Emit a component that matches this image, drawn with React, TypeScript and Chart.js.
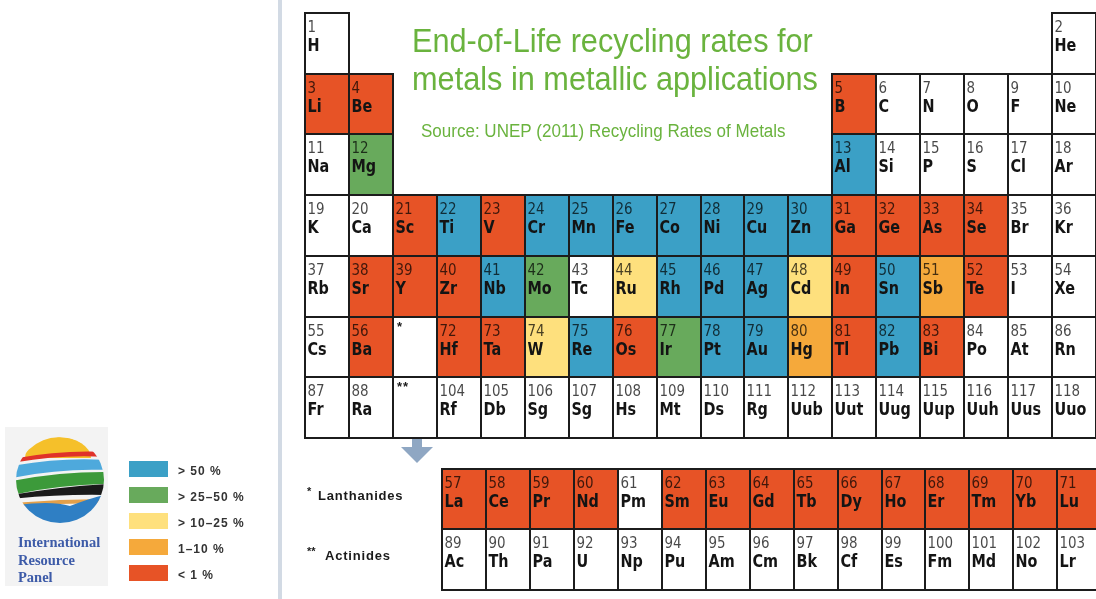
import React, { useEffect, useRef } from "react";
import { Chart, registerables } from "chart.js";
Chart.register(...registerables);

// ---------- DATA ----------
const SYMBOLS = ["H","He","Li","Be","B","C","N","O","F","Ne","Na","Mg","Al","Si","P","S","Cl","Ar","K","Ca","Sc","Ti","V","Cr","Mn","Fe","Co","Ni","Cu","Zn","Ga","Ge","As","Se","Br","Kr","Rb","Sr","Y","Zr","Nb","Mo","Tc","Ru","Rh","Pd","Ag","Cd","In","Sn","Sb","Te","I","Xe","Cs","Ba","La","Ce","Pr","Nd","Pm","Sm","Eu","Gd","Tb","Dy","Ho","Er","Tm","Yb","Lu","Hf","Ta","W","Re","Os","Ir","Pt","Au","Hg","Tl","Pb","Bi","Po","At","Rn","Fr","Ra","Ac","Th","Pa","U","Np","Pu","Am","Cm","Bk","Cf","Es","Fm","Md","No","Lr","Rf","Db","Sg","Sg","Hs","Mt","Ds","Rg","Uub","Uut","Uug","Uup","Uuh","Uus","Uuo"];

const OVER_50 = ["Al","Ti","Cr","Mn","Fe","Co","Ni","Cu","Zn","Nb","Rh","Pd","Ag","Sn","Re","Pt","Au","Pb"];
const FROM_25_TO_50 = ["Mg","Mo","Ir"];
const FROM_10_TO_25 = ["Ru","Cd","W"];
const FROM_1_TO_10 = ["Sb","Hg"];
const UNDER_1 = ["Li","Be","B","Sc","V","Ga","Ge","As","Se","Sr","Y","Zr","In","Te","Ba","Hf","Ta","Os","Tl","Bi","La","Ce","Pr","Nd","Sm","Eu","Gd","Tb","Dy","Ho","Er","Tm","Yb","Lu"];

const LEGEND_LABELS = ["> 50 %", "> 25\u201350 %", "> 10\u201325 %", "1\u201310 %", "< 1 %"];
const CATEGORY_GROUPS = [OVER_50, FROM_25_TO_50, FROM_10_TO_25, FROM_1_TO_10, UNDER_1];
const CATEGORY_COLORS = ["#3ba0c6", "#68aa5c", "#fee07d", "#f5a93b", "#e75326"];
const NONE_COLOR = "#ffffff";

const TITLE_LINES = ["End-of-Life recycling rates for", "metals in metallic applications"];
const SUBTITLE = "Source: UNEP (2011) Recycling Rates of Metals";
const SERIES_LABELS = ["* Lanthanides", "** Actinides"];
const LOGO_LINES = ["International", "Resource", "Panel"];

// layout constants
const F_BLOCK_OFFSET = 3.12;

// periodic table position (col, row) from atomic number
function cellPos(z: number) {
  if (z === 1) return { col: 0, row: 0 };
  if (z === 2) return { col: 17, row: 0 };
  if (z <= 18) {
    const row = z <= 10 ? 1 : 2;
    const i = z - (row === 1 ? 3 : 11);
    return { col: i < 2 ? i : i + 10, row };
  }
  if (z <= 54) {
    const row = z <= 36 ? 3 : 4;
    return { col: z - (row === 3 ? 19 : 37), row };
  }
  const row = z <= 86 ? 5 : 6;
  const i = z - (row === 5 ? 55 : 87);
  if (i < 2) return { col: i, row };
  if (i <= 16) return { col: F_BLOCK_OFFSET + (i - 2), row: row + 2.5 };
  return { col: i - 14, row };
}

function categoryOf(sym: string) {
  for (let k = 0; k < CATEGORY_GROUPS.length; k++) if (CATEGORY_GROUPS[k].includes(sym)) return k;
  return -1;
}

function buildDatasets() {
  const buckets: any[][] = [[], [], [], [], [], []];
  SYMBOLS.forEach((s, idx) => {
    const z = idx + 1;
    const p = cellPos(z);
    const k = categoryOf(s);
    buckets[k < 0 ? 5 : k].push({ x: p.col + 0.5, y: p.row + 0.5, z, s });
  });
  const labels = [...LEGEND_LABELS, "not assessed"];
  const colors = [...CATEGORY_COLORS, NONE_COLOR];
  const ds = buckets.map((data, k) => ({ label: labels[k], data, backgroundColor: colors[k], pointRadius: 0 }));
  ds.push({ label: "placeholders", data: [{ x: 2.5, y: 5.5, z: 0, s: "", mark: "*" }, { x: 2.5, y: 6.5, z: 0, s: "", mark: "**" }] as any, backgroundColor: NONE_COLOR, pointRadius: 0 });
  return ds;
}

function scaledText(ctx: CanvasRenderingContext2D, text: string, x: number, y: number, font: string, sx: number, color: string, spacing = "0px") {
  ctx.save();
  ctx.translate(x, y);
  ctx.scale(sx, 1);
  ctx.font = font;
  (ctx as any).letterSpacing = spacing;
  ctx.fillStyle = color;
  ctx.textBaseline = "alphabetic";
  ctx.textAlign = "left";
  ctx.fillText(text, 0, 0);
  ctx.restore();
}

function drawLogo(ctx: CanvasRenderingContext2D) {
  ctx.save();
  ctx.fillStyle = "#f3f3f3";
  ctx.fillRect(5, 427, 103, 159);
  ctx.beginPath();
  ctx.ellipse(60, 480, 44, 43, 0, 0, Math.PI * 2);
  ctx.clip();
  const band = (yl1: number, yr1: number, yl2: number, yr2: number, color: string, bend = -4) => {
    ctx.beginPath();
    ctx.moveTo(12, yl1);
    ctx.quadraticCurveTo(60, (yl1 + yr1) / 2 + bend, 108, yr1);
    ctx.lineTo(108, yr2);
    ctx.quadraticCurveTo(60, (yl2 + yr2) / 2 + bend, 12, yl2);
    ctx.closePath();
    ctx.fillStyle = color;
    ctx.fill();
  };
  // yellow hand dome
  ctx.beginPath();
  ctx.ellipse(58, 458, 33, 21, 0, Math.PI, Math.PI * 2);
  ctx.closePath();
  ctx.fillStyle = "#f5c02a";
  ctx.fill();
  band(459, 452, 463, 457, "#e0322a", -6);
  band(466, 460, 478, 470, "#4ea9dc", -6);
  band(481, 472, 495, 484, "#3c9a3a", -5);
  band(495, 484, 499, 495, "#1a1a1a", -3);
  band(503, 499, 507, 503, "#e3a04a", -2);
  ctx.beginPath();
  ctx.moveTo(12, 506);
  ctx.quadraticCurveTo(50, 500, 70, 506);
  ctx.quadraticCurveTo(90, 498, 108, 494);
  ctx.lineTo(108, 530);
  ctx.lineTo(12, 530);
  ctx.closePath();
  ctx.fillStyle = "#2f7fc4";
  ctx.fill();
  ctx.restore();
  ctx.save();
  ctx.fillStyle = "#3d5ba8";
  ctx.font = 'bold 14.5px "Liberation Serif", "Times New Roman", serif';
  ctx.fillText(LOGO_LINES[0], 18, 547);
  ctx.fillText(LOGO_LINES[1], 18, 565);
  ctx.fillText(LOGO_LINES[2], 18, 582);
  ctx.restore();
}

const tablePlugin = {
  id: "ptable",
  afterDatasetsDraw(chart: any) {
    const ctx: CanvasRenderingContext2D = chart.ctx;
    const xs = chart.scales.x;
    const ys = chart.scales.y;
    const cells: any[] = [];
    chart.data.datasets.forEach((ds: any) => ds.data.forEach((p: any) => {
      const l = Math.round(xs.getPixelForValue(p.x - 0.5));
      const r = Math.round(xs.getPixelForValue(p.x + 0.5));
      const t = Math.round(ys.getPixelForValue(p.y - 0.5));
      const b = Math.round(ys.getPixelForValue(p.y + 0.5));
      cells.push({ l, r, t, b, p, color: ds.backgroundColor });
    }));
    ctx.save();
    for (const c of cells) {
      ctx.fillStyle = c.color;
      ctx.fillRect(c.l, c.t, c.r - c.l, c.b - c.t);
    }
    ctx.strokeStyle = "#1c1c1c";
    ctx.lineWidth = 2;
    for (const c of cells) ctx.strokeRect(c.l, c.t, c.r - c.l, c.b - c.t);
    for (const c of cells) {
      if (c.p.mark) {
        scaledText(ctx, c.p.mark, c.l + 4, c.t + 14, 'bold 13px "Liberation Sans", Arial, sans-serif', 1, "#1a1a1a", "1px");
        continue;
      }
      scaledText(ctx, String(c.p.z), c.l + 2.5, c.t + 19, '16px "DejaVu Sans", sans-serif', 0.84, "rgba(0,0,0,0.72)");
      scaledText(ctx, c.p.s, c.l + 2.5, c.t + 38, 'bold 18px "DejaVu Sans", sans-serif', 0.8, "#141414");
    }
    ctx.restore();
  },
  afterDraw(chart: any) {
    const ctx: CanvasRenderingContext2D = chart.ctx;
    ctx.save();
    ctx.fillStyle = "#d2dae4";
    ctx.fillRect(278, 0, 4, 599);
    const green = "#6ab33e";
    const tf = '33px "Liberation Sans", Arial, sans-serif';
    scaledText(ctx, TITLE_LINES[0], 412, 52, tf, 0.93, green);
    scaledText(ctx, TITLE_LINES[1], 412, 90, tf, 0.93, green);
    scaledText(ctx, SUBTITLE, 421, 137, '18px "Liberation Sans", Arial, sans-serif', 0.945, green);
    // arrow
    ctx.fillStyle = "#8fa7c3";
    ctx.fillRect(412, 439, 10, 12);
    ctx.beginPath();
    ctx.moveTo(401, 447);
    ctx.lineTo(433, 447);
    ctx.lineTo(417, 463);
    ctx.closePath();
    ctx.fill();
    // series labels
    const lf = 'bold 13px "Liberation Sans", Arial, sans-serif';
    scaledText(ctx, "*", 307, 495, 'bold 11px "Liberation Sans", Arial, sans-serif', 1, "#1a1a1a");
    scaledText(ctx, SERIES_LABELS[0].replace("* ", ""), 318, 500, lf, 1, "#1a1a1a", "0.8px");
    scaledText(ctx, "**", 307, 555, 'bold 11px "Liberation Sans", Arial, sans-serif', 1, "#1a1a1a");
    scaledText(ctx, SERIES_LABELS[1].replace("** ", ""), 325, 560, lf, 1, "#1a1a1a", "0.8px");
    // legend
    LEGEND_LABELS.forEach((lab, i) => {
      const top = 461 + i * 26;
      ctx.fillStyle = CATEGORY_COLORS[i];
      ctx.fillRect(129, top, 39, 16);
      scaledText(ctx, lab, 178, top + 14, 'bold 12px "Liberation Sans", Arial, sans-serif', 1, "#333333", "1px");
    });
    drawLogo(ctx);
    ctx.restore();
  },
};

export default function App() {
  const ref = useRef<HTMLCanvasElement | null>(null);
  useEffect(() => {
    if (!ref.current) return;
    const chart = new Chart(ref.current, {
      type: "scatter",
      data: { datasets: buildDatasets() as any },
      options: {
        responsive: false,
        animation: false,
        events: [],
        layout: { padding: { left: 305, top: 13, right: 0, bottom: 9 } },
        plugins: { legend: { display: false }, tooltip: { enabled: false }, title: { display: false } },
        scales: {
          x: { type: "linear", min: 0, max: 18, display: false },
          y: { type: "linear", min: 0, max: 9.5, reverse: true, display: false },
        },
      },
      plugins: [tablePlugin],
    });
    return () => chart.destroy();
  }, []);
  return (
    <div style={{ position: "absolute", left: 0, top: 0, width: 1096, height: 599, background: "#fff" }}>
      <canvas ref={ref} width={1096} height={599} style={{ display: "block" }} />
    </div>
  );
}
